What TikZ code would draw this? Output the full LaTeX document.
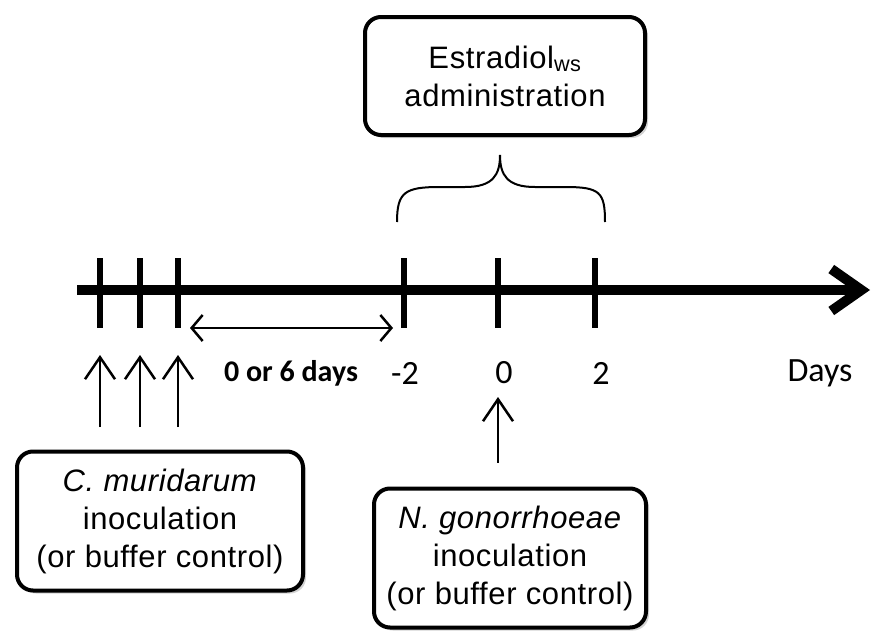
\documentclass[tikz,border=0pt]{standalone}
\usepackage{fontspec}
\setmainfont{Liberation Sans}
\newfontfamily\boxfont{Liberation Sans}[LetterSpace=2]
\newfontfamily\calib{Carlito}
\usepackage{tikz}
\usetikzlibrary{arrows.meta,shadows}

\begin{document}
\begin{tikzpicture}[x = 1pt, y = -1pt,
    tl/.style = {line width = 5.5pt},
    info/.style = {draw, line width = 4pt, rounded corners = 16pt, fill = white, align = center, inner sep = 0pt,
        font = \boxfont\fontsize{31}{38}\selectfont,
        drop shadow = {shadow xshift = 3pt, shadow yshift = -3pt, opacity = .35}},
    daylab/.style = {font = \calib\fontsize{34}{40}\selectfont},
    uparrow/.style = {line width = 2.5pt, -{Straight Barb[length = 22pt, width = 30pt]}},
    span/.style = {line width = 2.5pt, {Straight Barb[length = 11pt, width = 26pt]}-{Straight Barb[length = 11pt, width = 26pt]}}]
\useasboundingbox (0,0) rectangle (873,632);
\coordinate (start) at (77,290);
\coordinate (end) at (870,290);
\draw [line width = 10pt, -{Straight Barb[length = 30pt, width = 42pt]}] (start) -- (end);
\foreach \x [count = \i] in {100,140,178,404,498,595}
    {\coordinate (t\i) at (\x,290);
    \draw [tl] ([yshift = 32pt]t\i) -- ([yshift = -38pt]t\i);}
\node[daylab] (lm2) at (405,373) {-2};
\node[daylab] (l0) at (504,373) {0};
\node[daylab] (l2) at (601,373) {2};
\node[daylab] (days) at (820,373) {Days};
\node[font = \calib\bfseries\fontsize{30}{36}\selectfont] (gap) at (291,373) {0 or 6 days};
\draw [span] ([xshift = 12pt, yshift = -38pt]t3) -- ([xshift = -11pt, yshift = -38pt]t4);
\node[info, minimum width = 280pt, minimum height = 118pt] (est) at (505,76) {Estradiol\textsubscript{ws}\\administration};
\node[info, minimum width = 286pt, minimum height = 139pt] (cm) at (160,521) {\textit{C. muridarum}\\inoculation\\(or buffer control)};
\node[info, minimum width = 272pt, minimum height = 139pt] (ng) at (510,558) {\textit{N. gonorrhoeae}\\inoculation\\(or buffer control)};
\foreach \i in {1,2,3}
    \draw [uparrow] ([yshift = -137pt]t\i) -- ([yshift = -65pt]t\i);
\draw [uparrow, shorten <= 24pt] (t5 |- ng.north) -- ([yshift = -107pt]t5);
\draw [line width = 2pt] (397,222) .. controls (397,192) and (405,187) .. (440,187) -- (465,187)
    .. controls (493,187) and (500,175) .. (500,155) .. controls (500,175) and (507,187) .. (535,187)
    -- (565,187) .. controls (600,187) and (605,192) .. (605,222);
\end{tikzpicture}
\end{document}
